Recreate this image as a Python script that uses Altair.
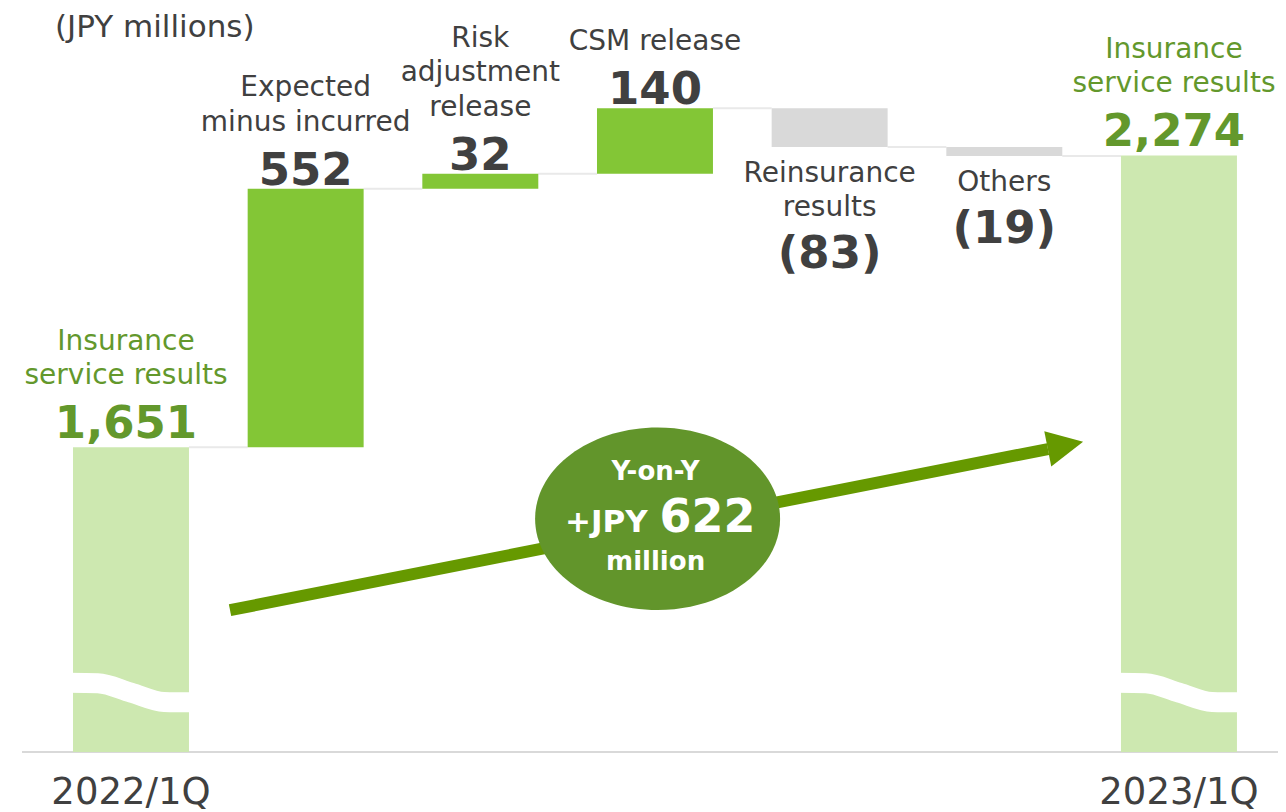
import altair as alt
import pandas as pd

# ---------------- data ----------------
steps = ["2022/1Q", "Expected minus incurred", "Risk adjustment release",
         "CSM release", "Reinsurance results", "Others", "2023/1Q"]
label_lines = [["Insurance", "service results"],
               ["Expected", "minus incurred"],
               ["Risk", "adjustment", "release"],
               ["CSM release"],
               ["Reinsurance", "results"],
               ["Others"],
               ["Insurance", "service results"]]
values = [1651, 552, 32, 140, -83, -19, 2274]
value_text = ["1,651", "552", "32", "140", "(83)", "(19)", "2,274"]
kinds = ["total", "up", "up", "up", "down", "down", "total"]
title_text = "(JPY millions)"

y_floor = 1000          # broken axis: bars start here
y_top = 2589

# break marks drawn across the two total bars
wave_dx = [-0.36, -0.19, 0.0, 0.19, 0.36]
wave_y = [1148, 1147, 1127, 1107, 1106]

# Y-on-Y arrow and bubble
arrow_x = [0.567, 5.250]
arrow_y = [1303, 1647]
head_x, head_y = 5.350, 1655
bubble_x, bubble_y = 3.015, 1498
bubble_lines = ["Y-on-Y", "+JPY", "622", "million"]

# ---------------- styling / layout ----------------
FONT = "DejaVu Sans"
DARK = "#404040"
GREEN_TXT = "#63982c"
X_DOM = [-0.624, 6.567]
PLOT_W, PLOT_H = 1256, 744
HALF = 0.332
PPU = PLOT_H / (y_top - y_floor)          # pixels per y unit
XPU = PLOT_W / (X_DOM[1] - X_DOM[0])      # pixels per x unit

xs = alt.Scale(domain=X_DOM, nice=False, zero=False)
ys = alt.Scale(domain=[y_floor, y_top], nice=False, zero=False)


def X(f):
    return alt.X(f, type="quantitative", scale=xs, axis=None)


def Y(f):
    return alt.Y(f, type="quantitative", scale=ys, axis=None)


# ---------------- derived tables ----------------
bars, levels = [], []
running = 0
for i, (v, k) in enumerate(zip(values, kinds)):
    if k == "total":
        lo, hi = y_floor, v
        running = v
    elif k == "up":
        lo, hi = running, running + v
        running += v
    else:
        lo, hi = running + v, running
        running += v
    bars.append(dict(step=steps[i], x0=i - HALF, x1=i + HALF, low=lo, high=hi, kind=k))
    levels.append(running)
bars_df = pd.DataFrame(bars)

conn_df = pd.DataFrame([dict(x0=i + HALF, x1=i + 1 - HALF, y=levels[i])
                        for i in range(len(steps) - 1)])

base_df = pd.DataFrame([dict(x0=X_DOM[0], x1=X_DOM[1], y=y_floor)])

name_rows, num_rows = [], []
for i, (lines, k, t) in enumerate(zip(label_lines, kinds, value_text)):
    b = bars[i]
    if k == "down":
        anchor = b["low"]
        for j, line in enumerate(lines):
            off = 35 + 34 * j
            name_rows.append(dict(x=i, y=anchor - off / PPU, text=line, kind=k))
        off = 35 + 34 * (len(lines) - 1) + 52
        num_rows.append(dict(x=i, y=anchor - off / PPU, text=t, kind=k))
    else:
        anchor = b["high"]
        gap = 9 if k == "total" else 4
        xc = i - 5 / XPU if k == "total" else i
        num_rows.append(dict(x=xc, y=anchor + gap / PPU, text=t, kind=k))
        for j, line in enumerate(reversed(lines)):
            off = gap + 54 + 34.5 * j
            name_rows.append(dict(x=xc, y=anchor + off / PPU, text=line, kind=k))
names_df = pd.DataFrame(name_rows)
nums_df = pd.DataFrame(num_rows)

axis_df = pd.DataFrame([dict(x=i, y=y_floor - 52 / PPU, text=s)
                        for i, (s, k) in enumerate(zip(steps, kinds)) if k == "total"])

wave_df = pd.DataFrame([dict(bar=i, x=i + dx, y=wy)
                        for i, k in enumerate(kinds) if k == "total"
                        for dx, wy in zip(wave_dx, wave_y)])

arrow_df = pd.DataFrame(dict(x=arrow_x, y=arrow_y))
head_df = pd.DataFrame([dict(x=head_x, y=head_y)])
bubble_df = pd.DataFrame([dict(x=bubble_x, y=bubble_y)])

# ---------------- layers ----------------
baseline = alt.Chart(base_df).mark_rule(color="#d9d9d9", strokeWidth=2).encode(
    x=X("x0"), x2="x1", y=Y("y"))

connectors = alt.Chart(conn_df).mark_rule(color="#e9e9e9", strokeWidth=2).encode(
    x=X("x0"), x2="x1", y=Y("y"))

bar_layer = alt.Chart(bars_df).mark_rect().encode(
    x=X("x0"), x2="x1", y=Y("low"), y2="high",
    color=alt.Color("kind:N", legend=None,
                    scale=alt.Scale(domain=["total", "up", "down"],
                                    range=["#cde8b0", "#83c636", "#d9d9d9"])))

waves = alt.Chart(wave_df).mark_line(color="white", strokeWidth=20,
                                     interpolate="monotone", strokeCap="butt").encode(
    x=X("x"), y=Y("y"), detail="bar:N")

txt_color = alt.condition(alt.datum.kind == "total", alt.value(GREEN_TXT), alt.value(DARK))

names = alt.Chart(names_df).mark_text(font=FONT, fontSize=28, align="center",
                                      baseline="alphabetic").encode(
    x=X("x"), y=Y("y"), text="text:N", color=txt_color)

nums = alt.Chart(nums_df).mark_text(font=FONT, fontSize=45, fontWeight="bold",
                                    align="center", baseline="alphabetic").encode(
    x=X("x"), y=Y("y"), text="text:N", color=txt_color)

axis_labels = alt.Chart(axis_df).mark_text(font=FONT, fontSize=37, color=DARK,
                                           align="center", baseline="alphabetic").encode(
    x=X("x"), y=Y("y"), text="text:N")

title = alt.Chart(pd.DataFrame([dict(text=title_text)])).mark_text(
    font=FONT, fontSize=31, color=DARK, align="left", baseline="alphabetic").encode(
    x=alt.value(33), y=alt.value(29), text="text:N")

shaft = alt.Chart(arrow_df).mark_line(color="#669900", strokeWidth=12,
                                      strokeCap="butt").encode(x=X("x"), y=Y("y"))

HEAD_PATH = "M 1 0 L -1 1 L -1 -1 Z"
head = alt.Chart(head_df).mark_point(shape=HEAD_PATH, size=1296, filled=True,
                                     color="#669900", opacity=1, strokeWidth=0,
                                     angle=348.86).encode(x=X("x"), y=Y("y"))

ELLIPSE = ("M 1 0 C 1 0.4115 0.5523 0.745 0 0.745 C -0.5523 0.745 -1 0.4115 -1 0 "
           "C -1 -0.4115 -0.5523 -0.745 0 -0.745 C 0.5523 -0.745 1 -0.4115 1 0 Z")
bubble = alt.Chart(bubble_df).mark_point(shape=ELLIPSE, size=245 ** 2, filled=True,
                                         color="#62952b", opacity=1,
                                         strokeWidth=0).encode(x=X("x"), y=Y("y"))


def bubble_text(text, size, dx, dy, align="center"):
    return alt.Chart(pd.DataFrame([dict(x=bubble_x, y=bubble_y, text=text)])).mark_text(
        font=FONT, fontSize=size, fontWeight="bold", color="white", align=align,
        baseline="alphabetic", dx=dx, dy=dy).encode(x=X("x"), y=Y("y"), text="text:N")


b1 = bubble_text(bubble_lines[0], 26, -2, -39)
b2 = bubble_text(bubble_lines[1], 31, -10, 13, "right")
b3 = bubble_text(bubble_lines[2], 46, 2, 13, "left")
b4 = bubble_text(bubble_lines[3], 26, -2, 51)

chart = alt.layer(
    baseline, connectors, bar_layer, waves, shaft, head, bubble,
    b1, b2, b3, b4, names, nums, axis_labels, title
).properties(
    width=PLOT_W, height=PLOT_H,
    autosize=alt.AutoSizeParams(type="none"),
    padding={"left": 14, "top": 0, "right": 0, "bottom": 60},
).configure_view(stroke=None)

chart.save("out.html", embed_options={"renderer": "svg", "actions": False})
